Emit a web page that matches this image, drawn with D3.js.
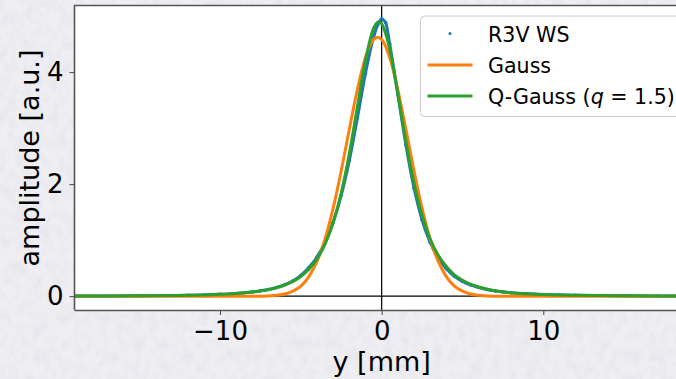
<!DOCTYPE html>
<html>
<head>
<meta charset="utf-8">
<script src="https://cdn.jsdelivr.net/npm/d3@7"></script>
<style>
  body { margin: 0; padding: 0; overflow: hidden; }
  svg { display: block; font-family: "DejaVu Sans", sans-serif; }
</style>
</head>
<body>
<div id="chart"></div>
<script>
var w = 676,
    h = 379;

// measured profile (scatter)
var wsX = [-19, -17, -15, -13, -12, -11, -10, -9, -8, -7.5, -7, -6.5, -6, -5.5, -5, -4.5, -4, -3.5, -3, -2.5, -2, -1.5, -1, -0.5, -0.25, 0, 0.25, 0.5, 1, 1.5, 2, 2.5, 3, 3.5, 4, 4.5, 5, 5.5, 6, 6.5, 7, 7.5, 8, 9, 10, 11, 12, 13, 15, 17, 19];
var wsY = [0.003, 0.004, 0.007, 0.012, 0.016, 0.022, 0.032, 0.048, 0.075, 0.095, 0.12, 0.155, 0.205, 0.27, 0.37, 0.51, 0.70, 0.96, 1.32, 1.80, 2.42, 3.18, 3.98, 4.62, 4.84, 4.95, 4.88, 4.50, 3.60, 2.70, 1.93, 1.36, 0.96, 0.68, 0.49, 0.355, 0.265, 0.20, 0.155, 0.12, 0.095, 0.077, 0.062, 0.042, 0.029, 0.021, 0.016, 0.012, 0.007, 0.004, 0.003];

// gauss fit
var gaussX = [-19, -10, -7.5, -6.5, -6, -5.5, -5, -4.5, -4, -3.5, -3, -2.5, -2, -1.5, -1, -0.5, -0.25, 0, 0.5, 1, 1.5, 2, 2.5, 3, 3.5, 4, 4.5, 5, 5.5, 6, 7, 10, 19];
var gaussY = [0, 0, 0, 0.017, 0.04, 0.09, 0.18, 0.35, 0.62, 1.02, 1.57, 2.24, 2.98, 3.69, 4.26, 4.58, 4.62, 4.58, 4.26, 3.69, 2.98, 2.24, 1.57, 1.02, 0.62, 0.35, 0.18, 0.09, 0.04, 0.017, 0, 0, 0];

// q-gauss fit
var qX = [-19, -15, -12, -10, -8, -7, -6, -5, -4.5, -4, -3.5, -3, -2.5, -2, -1.5, -1, -0.5, -0.18, 0, 0.5, 1, 1.5, 2, 2.5, 3, 3.5, 4, 4.5, 5, 6, 7, 8, 10, 12, 15, 19];
var qY = [0.0027, 0.0068, 0.016, 0.032, 0.073, 0.117, 0.198, 0.352, 0.48, 0.665, 0.93, 1.31, 1.84, 2.54, 3.38, 4.21, 4.78, 4.90, 4.86, 4.41, 3.62, 2.76, 2.02, 1.44, 1.02, 0.73, 0.53, 0.38, 0.285, 0.163, 0.098, 0.062, 0.028, 0.0145, 0.0062, 0.0025];

var xTicks = [-10, 0, 10];
var yTicks = [0, 2, 4];
var legendLabels = ["R3V WS", "Gauss", "Q-Gauss"];

var svg = d3.select("#chart")
  .append("svg")
  .attr("width", w)
  .attr("height", h);

var defs = svg.append("defs");
var f = defs.append("filter").attr("id", "paper")
  .attr("x", 0).attr("y", 0).attr("width", "100%").attr("height", "100%");
f.append("feTurbulence")
  .attr("type", "fractalNoise")
  .attr("baseFrequency", "0.12 0.08")
  .attr("numOctaves", 4)
  .attr("seed", 11);
f.append("feColorMatrix")
  .attr("type", "matrix")
  .attr("values", "0 0 0 0 0.6  0 0 0 0 0.6  0 0 0 0 0.66  0.45 0 0 0 -0.16");
f.append("feComposite").attr("in2", "SourceGraphic").attr("operator", "in");

defs.append("clipPath").attr("id", "plotclip")
  .append("rect").attr("x", 74.5).attr("y", 6).attr("width", 620).attr("height", 304);

// paper background
svg.append("rect").attr("width", w).attr("height", h).attr("fill", "#efeef3");
svg.append("rect").attr("width", w).attr("height", h).attr("fill", "#efeef3").attr("filter", "url(#paper)");

var x = d3.scaleLinear().domain([-19, 19]).range([74.5, 688.8]);
var y = d3.scaleLinear().domain([-0.247, 5.18]).range([310, 6]);

// plot area
svg.append("rect")
  .attr("x", 74.5).attr("y", 6)
  .attr("width", 620).attr("height", 304)
  .attr("fill", "#fff");

var plot = svg.append("g").attr("clip-path", "url(#plotclip)");

// zero lines
plot.append("line")
  .attr("x1", x(-19)).attr("x2", x(19))
  .attr("y1", y(0)).attr("y2", y(0))
  .attr("stroke", "#000").attr("stroke-width", 1.2);
plot.append("line")
  .attr("x1", x(0)).attr("x2", x(0))
  .attr("y1", y(5.18)).attr("y2", y(-0.247))
  .attr("stroke", "#000").attr("stroke-width", 1.2);

var line = d3.line()
  .x(function(d) { return x(d[0]); })
  .y(function(d) { return y(d[1]); })
  .curve(d3.curveMonotoneX);

var ws = d3.zip(wsX, wsY);
plot.append("path")
  .datum(ws)
  .attr("d", line)
  .attr("fill", "none")
  .attr("stroke", "#1f77b4")
  .attr("stroke-width", 3);
plot.selectAll(".ws")
  .data(ws)
  .enter()
  .append("circle")
  .attr("class", "ws")
  .attr("cx", function(d) { return x(d[0]); })
  .attr("cy", function(d) { return y(d[1]); })
  .attr("r", 1.8)
  .attr("fill", "#1f77b4");

plot.append("path")
  .datum(d3.zip(gaussX, gaussY))
  .attr("d", line)
  .attr("fill", "none")
  .attr("stroke", "#ff7f0e")
  .attr("stroke-width", 3);

plot.append("path")
  .datum(d3.zip(qX, qY))
  .attr("d", line)
  .attr("fill", "none")
  .attr("stroke", "#2ca02c")
  .attr("stroke-width", 3);

// axes
var xAxis = d3.axisBottom(x).tickValues(xTicks).tickSize(5).tickPadding(6)
  .tickFormat(function(d) { return d < 0 ? "\u2212" + Math.abs(d) : d; });
var yAxis = d3.axisLeft(y).tickValues(yTicks).tickSize(5).tickPadding(6)
  .tickFormat(d3.format("d"));

var gx = svg.append("g").attr("transform", "translate(0,310)").call(xAxis);
var gy = svg.append("g").attr("transform", "translate(74.5,0)").call(yAxis);
[gx, gy].forEach(function(g) {
  g.select(".domain").remove();
  g.selectAll(".tick line").attr("stroke", "#444").attr("stroke-width", 1);
  g.selectAll("text").attr("font-size", 26).attr("fill", "#000")
    .attr("font-family", "DejaVu Sans");
});
gx.selectAll("text").attr("dy", "0.74em");

// spines
svg.append("path")
  .attr("d", "M74.5,310 L74.5,5.5 L690,5.5")
  .attr("fill", "none").attr("stroke", "#555").attr("stroke-width", 1.6);
svg.append("line")
  .attr("x1", 74.5).attr("x2", 690).attr("y1", 310.5).attr("y2", 310.5)
  .attr("stroke", "#555").attr("stroke-width", 1.4);

// axis labels
svg.append("text")
  .attr("x", x(0)).attr("y", 371)
  .attr("text-anchor", "middle")
  .attr("font-size", 27)
  .text("y [mm]");
svg.append("text")
  .attr("transform", "translate(39,158) rotate(-90)")
  .attr("text-anchor", "middle")
  .attr("font-size", 27)
  .text("amplitude [a.u.]");

// legend
var lg = svg.append("g");
lg.append("rect")
  .attr("x", 420.5).attr("y", 16)
  .attr("width", 265).attr("height", 100.5)
  .attr("rx", 4)
  .attr("fill", "#fff").attr("fill-opacity", 0.8)
  .attr("stroke", "#ccc").attr("stroke-width", 1);

lg.append("circle").attr("cx", 450).attr("cy", 33.5).attr("r", 1.5).attr("fill", "#1f77b4");
lg.append("line").attr("x1", 427.5).attr("x2", 472.5).attr("y1", 65).attr("y2", 65)
  .attr("stroke", "#ff7f0e").attr("stroke-width", 3);
lg.append("line").attr("x1", 427.5).attr("x2", 472.5).attr("y1", 96).attr("y2", 96)
  .attr("stroke", "#2ca02c").attr("stroke-width", 3);

lg.append("text").attr("x", 488).attr("y", 41.5).attr("font-size", 20.6).text(legendLabels[0]);
lg.append("text").attr("x", 488).attr("y", 72.5).attr("font-size", 20.6).text(legendLabels[1]);
var qt = lg.append("text").attr("x", 488).attr("y", 103.5).attr("font-size", 20.6);
qt.append("tspan").text(legendLabels[2] + " (");
qt.append("tspan").attr("font-style", "italic").text("q");
qt.append("tspan").text(" = 1.5)");
</script>
</body>
</html>
